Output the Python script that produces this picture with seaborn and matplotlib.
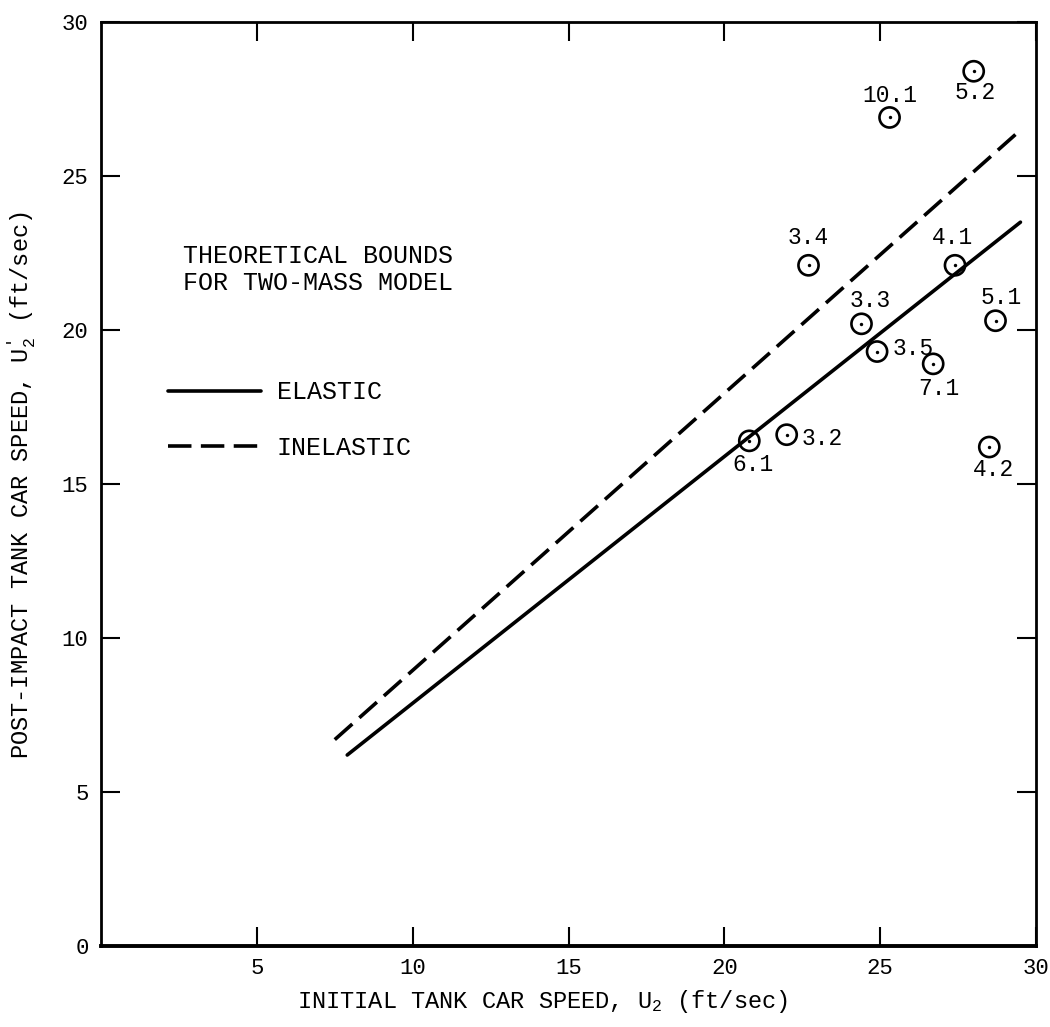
import numpy as np
import pandas as pd
import seaborn as sns
import matplotlib.pyplot as plt

# test points
test_ids = ["6.1", "3.2", "3.4", "3.3", "3.5", "10.1", "7.1", "4.1", "5.2", "5.1", "4.2"]
u2 = [20.8, 22.0, 22.7, 24.4, 24.9, 25.3, 26.7, 27.4, 28.0, 28.7, 28.5]
u2_post = [16.4, 16.6, 22.1, 20.2, 19.3, 26.9, 18.9, 22.1, 28.4, 20.3, 16.2]

# theoretical bounds (end points of the lines)
elastic_x = [7.9, 29.5]
elastic_y = [6.2, 23.5]
inelastic_x = [7.5, 29.4]
inelastic_y = [6.7, 26.4]

x_ticks = [5, 10, 15, 20, 25, 30]
y_ticks = [0, 5, 10, 15, 20, 25, 30]

# label offsets (points) and alignment for each test id
label_pos = {
    "6.1": (3, -17, "center"), "3.2": (11, -3, "left"), "3.4": (0, 20, "center"),
    "3.3": (6, 17, "center"), "3.5": (11, 2, "left"), "10.1": (0, 16, "center"),
    "7.1": (4, -18, "center"), "4.1": (-2, 20, "center"), "5.2": (1, -15, "center"),
    "5.1": (4, 17, "center"), "4.2": (3, -16, "center"),
}

df = pd.DataFrame({"test": test_ids, "u2": u2, "u2_post": u2_post})

sns.set_theme(style="ticks", rc={"axes.edgecolor": "black", "text.color": "black",
                                 "xtick.color": "black", "ytick.color": "black",
                                 "axes.labelcolor": "black"})
plt.rcParams["font.family"] = ["Liberation Mono", "DejaVu Sans"]
plt.rcParams["mathtext.default"] = "regular"

fig = plt.figure(figsize=(10.5, 10.27), dpi=100)
ax = fig.add_axes([0.0962, 0.0789, 0.8905, 0.8997])

sns.lineplot(x=elastic_x, y=elastic_y, ax=ax, color="black", lw=2.6, label="ELASTIC")
sns.lineplot(x=inelastic_x, y=inelastic_y, ax=ax, color="black", lw=2.6, label="INELASTIC")
ax.lines[-1].set_dashes((6.5, 2.6))

sns.scatterplot(data=df, x="u2", y="u2_post", ax=ax, s=210, facecolor="none",
                edgecolor="black", linewidth=1.9, zorder=3, legend=False)
sns.scatterplot(data=df, x="u2", y="u2_post", ax=ax, s=6, color="black",
                linewidth=0, zorder=4, legend=False)

for t, x, y in zip(test_ids, u2, u2_post):
    dx, dy, ha = label_pos[t]
    ax.annotate(t, (x, y), xytext=(dx, dy), textcoords="offset points",
                ha=ha, va="center", fontsize=16.5)

ax.set_xlim(0, 30)
ax.set_ylim(0, 30)
ax.set_xticks(x_ticks)
ax.set_yticks(y_ticks)
ax.tick_params(direction="in", length=14, width=1.5, top=True, right=True,
               labelsize=16, pad=9)

for side in ["left", "right", "top"]:
    ax.spines[side].set_linewidth(2)
ax.spines["bottom"].set_linewidth(2.8)

ax.set_xlabel("INITIAL TANK CAR SPEED, U$_2$ (ft/sec)", fontsize=17)
ax.set_ylabel("POST-IMPACT TANK CAR SPEED, U$^{\\prime}_{2}$ (ft/sec)", fontsize=17)
ax.xaxis.set_label_coords(0.472, -0.045)
ax.xaxis.label.set_va("top")
ax.yaxis.set_label_coords(-0.067, 0.499)

ax.text(0.0877, 0.76, "THEORETICAL BOUNDS\nFOR TWO-MASS MODEL", transform=ax.transAxes,
        ha="left", va="top", fontsize=18, linespacing=1.15)
ax.legend(loc="upper left", bbox_to_anchor=(0.0717, 0.612), frameon=False, fontsize=18,
          handlelength=3.7, handletextpad=0.65, labelspacing=1.25, borderpad=0,
          borderaxespad=0)

fig.savefig("out.png", dpi=100)
